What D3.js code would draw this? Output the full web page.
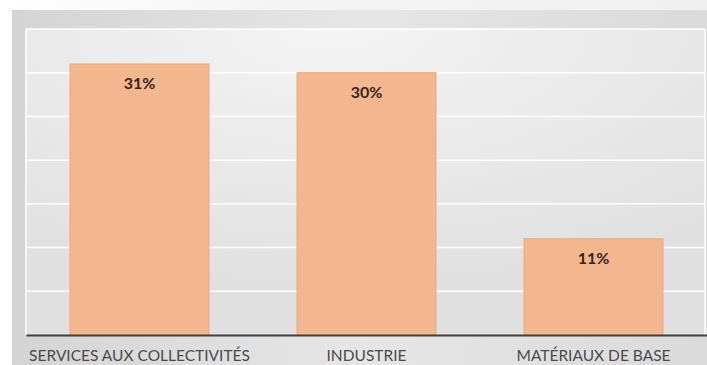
<!DOCTYPE html>
<html>
<head>
<meta charset="utf-8">
<script src="https://cdn.jsdelivr.net/npm/d3@7"></script>
<style>
  html, body { margin: 0; padding: 0; background: #fff; }
  svg { display: block; }
</style>
</head>
<body>
<svg id="chart" width="707" height="365"></svg>
<script>
const categories = ["SERVICES AUX COLLECTIVITÉS", "INDUSTRIE", "MATÉRIAUX DE BASE"];
const values = [31, 30, 11];
const valueLabels = ["31%", "30%", "11%"];
const yTicks = [0, 5, 10, 15, 20, 25, 30, 35];

const svg = d3.select("#chart");
const W = 707, H = 365;
const margin = { top: 29, right: 0, bottom: 30, left: 26 };

const defs = svg.append("defs");

// page background fade
const bgGrad = defs.append("linearGradient").attr("id", "bgGrad")
  .attr("x1", 0).attr("y1", 0).attr("x2", 1).attr("y2", 0);
bgGrad.append("stop").attr("offset", "0%").attr("stop-color", "#ffffff");
bgGrad.append("stop").attr("offset", "40%").attr("stop-color", "#f4f4f4");
bgGrad.append("stop").attr("offset", "100%").attr("stop-color", "#f0f0f0");

// chart frame
const frameGrad = defs.append("linearGradient").attr("id", "frameGrad")
  .attr("x1", 0).attr("y1", 0).attr("x2", 1).attr("y2", 0);
frameGrad.append("stop").attr("offset", "0%").attr("stop-color", "#d4d4d4");
frameGrad.append("stop").attr("offset", "50%").attr("stop-color", "#e6e6e6");
frameGrad.append("stop").attr("offset", "100%").attr("stop-color", "#dadada");

// plot area
const plotGrad = defs.append("radialGradient").attr("id", "plotGrad")
  .attr("cx", "45%").attr("cy", "0%").attr("r", "85%");
plotGrad.append("stop").attr("offset", "0%").attr("stop-color", "#f4f4f4");
plotGrad.append("stop").attr("offset", "100%").attr("stop-color", "#e0e0e0");

svg.append("rect").attr("width", W).attr("height", H).attr("fill", "url(#bgGrad)");
svg.append("rect").attr("x", 12).attr("y", 10).attr("width", W - 12).attr("height", H - 10)
  .attr("fill", "url(#frameGrad)");

const x = d3.scaleBand()
  .domain(categories)
  .range([margin.left, W - margin.right])
  .paddingInner(0.388)
  .paddingOuter(0.194);

const y = d3.scaleLinear()
  .domain([0, 35])
  .range([H - margin.bottom, margin.top]);

svg.append("rect")
  .attr("x", margin.left).attr("y", margin.top)
  .attr("width", W - margin.right - margin.left - 2)
  .attr("height", y(0) - margin.top)
  .attr("fill", "url(#plotGrad)");

// gridlines
svg.append("g")
  .selectAll("line")
  .data(yTicks.filter(d => d > 0))
  .enter()
  .append("line")
  .attr("x1", margin.left).attr("x2", W - 2)
  .attr("y1", d => y(d)).attr("y2", d => y(d))
  .attr("stroke", "#ffffff")
  .attr("stroke-width", 1.5);

// plot area side lines
svg.append("line")
  .attr("x1", margin.left).attr("x2", margin.left)
  .attr("y1", margin.top).attr("y2", y(0))
  .attr("stroke", "#ffffff").attr("stroke-width", 1.5);
svg.append("line")
  .attr("x1", W - 2).attr("x2", W - 2)
  .attr("y1", margin.top).attr("y2", y(0))
  .attr("stroke", "#ffffff").attr("stroke-width", 1.5);

// bars
svg.append("g")
  .selectAll("rect")
  .data(values)
  .enter()
  .append("rect")
  .attr("x", (d, i) => x(categories[i]))
  .attr("y", d => y(d))
  .attr("width", x.bandwidth())
  .attr("height", d => y(0) - y(d))
  .attr("fill", "#f2b78f")
  .attr("stroke", "#eaa77a")
  .attr("stroke-width", 1);

// value labels
svg.append("g")
  .selectAll("text")
  .data(values)
  .enter()
  .append("text")
  .attr("x", (d, i) => x(categories[i]) + x.bandwidth() / 2)
  .attr("y", d => y(d) + 25)
  .attr("text-anchor", "middle")
  .attr("font-family", "Lato, 'Open Sans', sans-serif")
  .attr("font-weight", "bold")
  .attr("font-size", "16px")
  .attr("fill", "#3a2418")
  .text((d, i) => valueLabels[i]);

// x axis
const xAxis = svg.append("g")
  .attr("transform", `translate(0,${y(0)})`)
  .call(d3.axisBottom(x).tickSize(0).tickPadding(15));
xAxis.select(".domain").attr("stroke", "#404040").attr("stroke-width", 2);
xAxis.selectAll("text")
  .attr("font-family", "Lato, 'Open Sans', sans-serif")
  .attr("font-size", "15.5px")
  .attr("fill", "#4a4a4a");
</script>
</body>
</html>
